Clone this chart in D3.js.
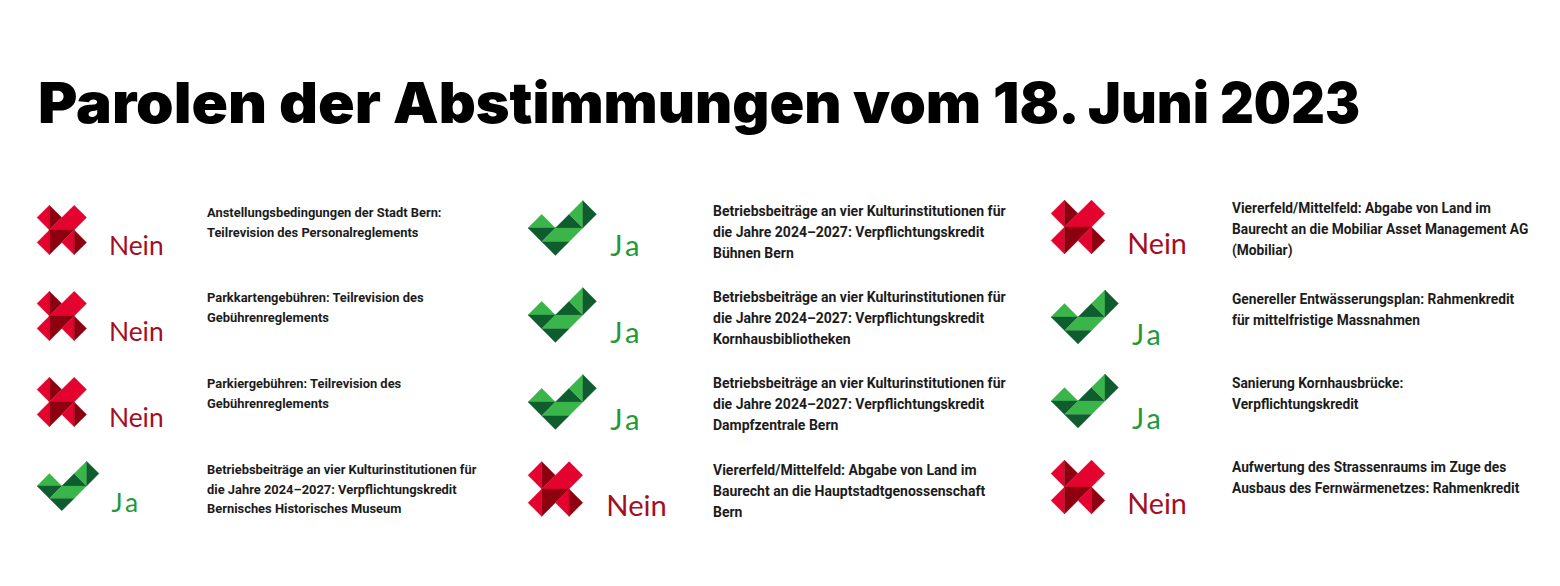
<!DOCTYPE html>
<html>
<head>
<meta charset="utf-8">
<script src="https://cdnjs.cloudflare.com/ajax/libs/d3/7.8.5/d3.min.js"></script>
<style>
    html, body { margin: 0; padding: 0; background: #fff; }
</style>
</head>
<body>
<div id="chart"></div>
<script>
const titleWords = ["Parolen ", "der ", "Abstimmungen ", "vom ", "18. ", "Juni ", "2023"];

// one list per column, top to bottom
const votesLeft = ["Nein", "Nein", "Nein", "Ja"];
const votesMiddle = ["Ja", "Ja", "Ja", "Nein"];
const votesRight = ["Nein", "Ja", "Ja", "Nein"];

const labelsLeft = [
    ["Anstellungsbedingungen der Stadt Bern:", "Teilrevision des Personalreglements"],
    ["Parkkartengebühren: Teilrevision des", "Gebührenreglements"],
    ["Parkiergebühren: Teilrevision des", "Gebührenreglements"],
    ["Betriebsbeiträge an vier Kulturinstitutionen für", "die Jahre 2024–2027: Verpflichtungskredit", "Bernisches Historisches Museum"]
];
const labelsMiddle = [
    ["Betriebsbeiträge an vier Kulturinstitutionen für", "die Jahre 2024–2027: Verpflichtungskredit", "Bühnen Bern"],
    ["Betriebsbeiträge an vier Kulturinstitutionen für", "die Jahre 2024–2027: Verpflichtungskredit", "Kornhausbibliotheken"],
    ["Betriebsbeiträge an vier Kulturinstitutionen für", "die Jahre 2024–2027: Verpflichtungskredit", "Dampfzentrale Bern"],
    ["Viererfeld/Mittelfeld: Abgabe von Land im", "Baurecht an die Hauptstadtgenossenschaft", "Bern"]
];
const labelsRight = [
    ["Viererfeld/Mittelfeld: Abgabe von Land im", "Baurecht an die Mobiliar Asset Management AG", "(Mobiliar)"],
    ["Genereller Entwässerungsplan: Rahmenkredit", "für mittelfristige Massnahmen"],
    ["Sanierung Kornhausbrücke:", "Verpflichtungskredit"],
    ["Aufwertung des Strassenraums im Zuge des", "Ausbaus des Fernwärmenetzes: Rahmenkredit"]
];

const rows = [0, 1, 2, 3];

// icons are built from triangles on a small grid
const red = "#e4032e", darkRed = "#8c0010";
const green = "#39b54a", darkGreen = "#0f5c2e";

const crossShapes = [
    {fill: red, pts: [[0,1],[1,0],[1,2]]},
    {fill: darkRed, pts: [[1,0],[2,1],[1,2]]},
    {fill: red, pts: [[2,1],[3,0],[4,1],[3,2],[1,2]]},
    {fill: red, pts: [[0,3],[1,2],[1,4]]},
    {fill: darkRed, pts: [[1,2],[3,2],[1,4]]},
    {fill: red, pts: [[3,2],[2,3],[3,4]]},
    {fill: darkRed, pts: [[3,2],[4,3],[3,4]]}
];
const checkShapes = [
    {fill: green, pts: [[0,2],[1,1],[2,2]]},
    {fill: darkGreen, pts: [[0,2],[2,2],[1,3]]},
    {fill: darkGreen, pts: [[2,2],[3,1],[4,2]]},
    {fill: green, pts: [[3,1],[4,0],[4,2]]},
    {fill: darkGreen, pts: [[4,0],[5,1],[4,2]]},
    {fill: green, pts: [[1,3],[2,2],[4,2],[3,3]]},
    {fill: darkGreen, pts: [[1,3],[3,3],[2,4]]}
];

// layout of the three columns
const columns = [
    {votes: votesLeft, labels: labelsLeft, iconX: 37, textX: 207, unit: 12.4, neinAt: 5.8, textSize: 12.9, lineGap: 19.5,
        iconY: d3.scaleOrdinal(rows, [230, 316, 402, 486]),
        textY: d3.scaleOrdinal(rows, [217, 302, 388, 474])},
    {votes: votesMiddle, labels: labelsMiddle, iconX: 528, textX: 713, unit: 13.7, neinAt: 5.72, textSize: 14, lineGap: 21,
        iconY: d3.scaleOrdinal(rows, [228, 315, 402, 489]),
        textY: d3.scaleOrdinal(rows, [216, 302, 388, 475])},
    {votes: votesRight, labels: labelsRight, iconX: 1051, textX: 1232, unit: 13.5, neinAt: 5.65, textSize: 13.75, lineGap: 21,
        iconY: d3.scaleOrdinal(rows, [227, 317, 401, 487]),
        textY: d3.scaleOrdinal(rows, [213, 304, 388, 472])}
];

// where each title word starts, last entry is the end of the title
const titleStops = [38, 279, 393, 853, 993, 1088, 1220, 1360];

const svg = d3.select("#chart").append("svg")
    .attr("width", 1560)
    .attr("height", 586)
    .style("display", "block");

svg.append("text")
    .attr("y", 123)
    .attr("font-family", "Inter")
    .attr("font-weight", 900)
    .attr("font-size", 56)
    .attr("fill", "#000")
    .selectAll("tspan")
    .data(titleWords)
    .enter()
    .append("tspan")
    .attr("x", (d, i) => titleStops[i])
    .attr("textLength", (d, i) => titleStops[i + 1] - titleStops[i])
    .attr("lengthAdjust", "spacingAndGlyphs")
    .text(d => d);

const line = d3.line();

columns.forEach(function(col) {
    let g = svg.append("g");

    rows.forEach(function(r) {
        let vote = col.votes[r];
        let isYes = vote === "Ja";
        let shapes = isYes ? checkShapes : crossShapes;
        let cy = col.iconY(r);

        let x = d3.scaleLinear().domain([0, 1]).range([col.iconX, col.iconX + col.unit]);
        let y = d3.scaleLinear().domain([2, 3]).range([cy, cy + col.unit]);

        g.selectAll(null)
            .data(shapes)
            .enter()
            .append("path")
            .attr("d", d => line(d.pts.map(p => [x(p[0]), y(p[1])])) + "Z")
            .attr("fill", d => d.fill)
            .attr("stroke", d => d.fill)
            .attr("stroke-width", 0.3);

        g.append("text")
            .attr("x", x(isYes ? 6 : col.neinAt))
            .attr("y", y(4) + (isYes ? 1 : 0))
            .attr("font-family", "Lato")
            .attr("font-size", col.unit * 2.13)
            .attr("letter-spacing", isYes ? 3 : 0)
            .attr("fill", isYes ? "#1f9a3a" : "#a50e22")
            .text(vote);

        let label = g.append("text")
            .attr("font-family", "Roboto")
            .attr("font-weight", 700)
            .attr("font-size", col.textSize)
            .attr("fill", "#1c1c1c");

        label.selectAll("tspan")
            .data(col.labels[r])
            .enter()
            .append("tspan")
            .attr("x", col.textX)
            .attr("y", (d, i) => col.textY(r) + i * col.lineGap)
            .text(d => d);
    });
});
</script>
</body>
</html>
